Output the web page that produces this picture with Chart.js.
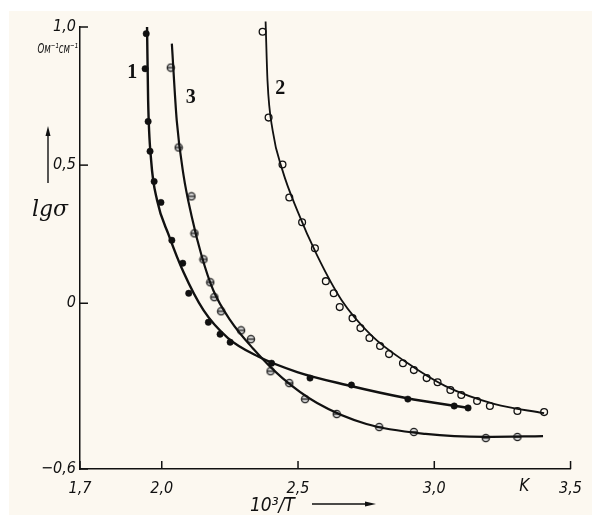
<!DOCTYPE html>
<html>
<head>
<meta charset="utf-8">
<script src="https://cdn.jsdelivr.net/npm/chart.js@4"></script>
<style>
  body { margin: 0; background: #ffffff; }
  canvas { display: block; }
</style>
</head>
<body>
<canvas id="chart" width="592" height="527"></canvas>
<script>
// tick values
const xTicks = [1.7, 2.0, 2.5, 3.0, 3.5];
const yTicks = [-0.6, 0, 0.5, 1.0];

// curve 1 - measured points (filled dots)
const s1X = [1.943, 1.939, 1.950, 1.957, 1.972, 1.997, 2.037, 2.077, 2.099, 2.171, 2.214, 2.251, 2.403, 2.544, 2.696, 2.903, 3.073, 3.124];
const s1Y = [0.976, 0.849, 0.658, 0.550, 0.441, 0.365, 0.228, 0.145, 0.036, -0.069, -0.112, -0.141, -0.217, -0.271, -0.296, -0.347, -0.372, -0.379];
// curve 1 - drawn line
const c1X = [1.946, 1.950, 1.961, 1.983, 2.026, 2.080, 2.153, 2.243, 2.352, 2.497, 2.678, 2.896, 3.124];
const c1Y = [1.0, 0.734, 0.517, 0.372, 0.246, 0.112, -0.025, -0.126, -0.192, -0.249, -0.296, -0.343, -0.379];

// curve 2 - measured points (open circles)
const s2X = [2.370, 2.392, 2.443, 2.468, 2.515, 2.562, 2.602, 2.631, 2.653, 2.700, 2.729, 2.762, 2.801, 2.834, 2.885, 2.925, 2.972, 3.012, 3.059, 3.099, 3.157, 3.204, 3.305, 3.403];
const s2Y = [0.983, 0.672, 0.502, 0.383, 0.293, 0.199, 0.080, 0.036, -0.014, -0.054, -0.090, -0.126, -0.155, -0.184, -0.217, -0.242, -0.271, -0.286, -0.314, -0.332, -0.354, -0.372, -0.390, -0.394];
const c2X = [2.381, 2.388, 2.407, 2.443, 2.497, 2.570, 2.660, 2.769, 2.896, 3.041, 3.222, 3.403];
const c2Y = [1.02, 0.806, 0.625, 0.481, 0.336, 0.173, 0.011, -0.116, -0.213, -0.300, -0.365, -0.398];

// curve 3 - measured points (crossed circles)
const s3X = [2.033, 2.062, 2.109, 2.120, 2.153, 2.178, 2.193, 2.218, 2.291, 2.327, 2.399, 2.468, 2.526, 2.642, 2.798, 2.925, 3.189, 3.305];
const s3Y = [0.853, 0.564, 0.387, 0.253, 0.159, 0.076, 0.022, -0.029, -0.098, -0.130, -0.246, -0.289, -0.347, -0.401, -0.448, -0.466, -0.488, -0.484];
const c3X = [2.037, 2.055, 2.080, 2.109, 2.146, 2.189, 2.251, 2.334, 2.443, 2.570, 2.751, 2.968, 3.186, 3.399];
const c3Y = [0.940, 0.661, 0.463, 0.318, 0.173, 0.047, -0.061, -0.163, -0.271, -0.361, -0.437, -0.473, -0.484, -0.481];

// curve number labels
const labelText = ['1', '3', '2'];
const labelX = [1.892, 2.106, 2.435];
const labelY = [0.835, 0.745, 0.777];

function pts(xs, ys) {
    return xs.map((x, i) => ({ x: x, y: ys[i] }));
}

function fmt(v) {
    if (v === 0) return '0';
    let s = v.toFixed(1).replace('.', ',');
    return s.replace('-', '\u2212');
}

// circle with a bar through it, for curve 3
const crossMark = document.createElement('canvas');
crossMark.width = 10;
crossMark.height = 10;
(function () {
    const c = crossMark.getContext('2d');
    c.beginPath();
    c.arc(5, 5, 3.6, 0, Math.PI * 2);
    c.fillStyle = '#d8d8d8';
    c.fill();
    c.lineWidth = 1.3;
    c.strokeStyle = '#222';
    c.stroke();
    c.beginPath();
    c.moveTo(1.5, 5);
    c.lineTo(8.5, 5);
    c.stroke();
})();

const lineStyle = {
    showLine: true,
    pointRadius: 0,
    borderColor: '#111',
    cubicInterpolationMode: 'monotone',
    clip: false
};

const tickFont = '"DejaVu Sans Condensed", "DejaVu Sans", sans-serif';

const paper = {
    id: 'paper',
    beforeDraw(chart) {
        const ctx = chart.ctx;
        ctx.save();
        ctx.fillStyle = '#ffffff';
        ctx.fillRect(0, 0, chart.width, chart.height);
        ctx.fillStyle = '#fcf8f0';
        ctx.fillRect(9, 11, chart.width - 9, 504);
        ctx.restore();
    }
};

const extras = {
    id: 'extras',
    afterDraw(chart) {
        const ctx = chart.ctx;
        const xs = chart.scales.x;
        const ys = chart.scales.y;
        const a = chart.chartArea;
        ctx.save();
        ctx.strokeStyle = '#111';
        ctx.lineWidth = 1.5;
        // inward ticks
        yTicks.forEach(v => {
            const p = ys.getPixelForValue(v);
            ctx.beginPath();
            ctx.moveTo(a.left, p);
            ctx.lineTo(a.left + 8, p);
            ctx.stroke();
        });
        xTicks.forEach(v => {
            const p = xs.getPixelForValue(v);
            ctx.beginPath();
            ctx.moveTo(p, a.bottom);
            ctx.lineTo(p, a.bottom - 8);
            ctx.stroke();
        });

        // curve numbers
        ctx.fillStyle = '#111';
        ctx.font = 'bold 20px "Liberation Serif", serif';
        ctx.textAlign = 'center';
        ctx.textBaseline = 'middle';
        labelText.forEach((t, i) => {
            ctx.fillText(t, xs.getPixelForValue(labelX[i]), ys.getPixelForValue(labelY[i]));
        });

        // units (squeezed a bit, like the hand lettering)
        ctx.save();
        ctx.translate(78, 50);
        ctx.scale(0.8, 1.1);
        ctx.font = 'italic 12px ' + tickFont;
        ctx.textAlign = 'right';
        ctx.fillText('Ом\u207B\u00B9см\u207B\u00B9', 0, 0);
        ctx.restore();

        // y title with arrow
        ctx.font = 'italic 22px "DejaVu Serif", serif';
        ctx.textAlign = 'center';
        ctx.fillText('lgσ', 50, 210);
        ctx.lineWidth = 1.4;
        ctx.beginPath();
        ctx.moveTo(48, 183);
        ctx.lineTo(48, 130);
        ctx.stroke();
        ctx.beginPath();
        ctx.moveTo(48, 126);
        ctx.lineTo(45.5, 136);
        ctx.lineTo(50.5, 136);
        ctx.closePath();
        ctx.fill();

        // x title with arrow
        ctx.font = 'italic 19px ' + tickFont;
        ctx.textAlign = 'left';
        ctx.fillText('10\u00B3/T', 250, 506);
        ctx.beginPath();
        ctx.moveTo(312, 504);
        ctx.lineTo(368, 504);
        ctx.stroke();
        ctx.beginPath();
        ctx.moveTo(376, 504);
        ctx.lineTo(365, 501.5);
        ctx.lineTo(365, 506.5);
        ctx.closePath();
        ctx.fill();

        // unit K
        ctx.font = 'italic 17px ' + tickFont;
        ctx.textAlign = 'center';
        ctx.fillText('K', xs.getPixelForValue(3.33), 487);
        ctx.restore();
    }
};

new Chart(document.getElementById('chart'), {
    type: 'scatter',
    data: {
        datasets: [
            Object.assign({ data: pts(c1X, c1Y), borderWidth: 2.4 }, lineStyle),
            Object.assign({ data: pts(c2X, c2Y), borderWidth: 1.8 }, lineStyle),
            Object.assign({ data: pts(c3X, c3Y), borderWidth: 2.2 }, lineStyle),
            {
                data: pts(s1X, s1Y),
                pointRadius: 3.2,
                backgroundColor: '#111',
                borderColor: '#111',
                borderWidth: 0.5,
                clip: false
            },
            {
                data: pts(s2X, s2Y),
                pointRadius: 3.4,
                backgroundColor: '#fcf8f0',
                borderColor: '#111',
                borderWidth: 1.3,
                clip: false
            },
            {
                data: pts(s3X, s3Y),
                pointStyle: crossMark,
                clip: false
            }
        ]
    },
    options: {
        responsive: false,
        animation: false,
        events: [],
        layout: { padding: { top: 27, right: 14, left: 0, bottom: 0 } },
        plugins: {
            legend: { display: false },
            tooltip: { enabled: false }
        },
        scales: {
            x: {
                type: 'linear',
                min: 1.7,
                max: 3.5,
                afterBuildTicks: s => { s.ticks = xTicks.map(v => ({ value: v })); },
                afterFit: s => { s.height = 58; },
                grid: { display: false, drawTicks: false },
                border: { display: true, color: '#111', width: 1.5 },
                ticks: {
                    padding: 10,
                    color: '#111',
                    font: { family: tickFont, size: 16, style: 'italic' },
                    callback: v => fmt(v)
                }
            },
            y: {
                type: 'linear',
                min: -0.6,
                max: 1.0,
                afterBuildTicks: s => { s.ticks = yTicks.map(v => ({ value: v })); },
                afterFit: s => { s.width = 80; },
                grid: { display: false, drawTicks: false },
                border: { display: true, color: '#111', width: 1.5 },
                ticks: {
                    padding: 4,
                    color: '#111',
                    font: { family: tickFont, size: 16, style: 'italic' },
                    callback: v => fmt(v)
                }
            }
        }
    },
    plugins: [paper, extras]
});
</script>
</body>
</html>
